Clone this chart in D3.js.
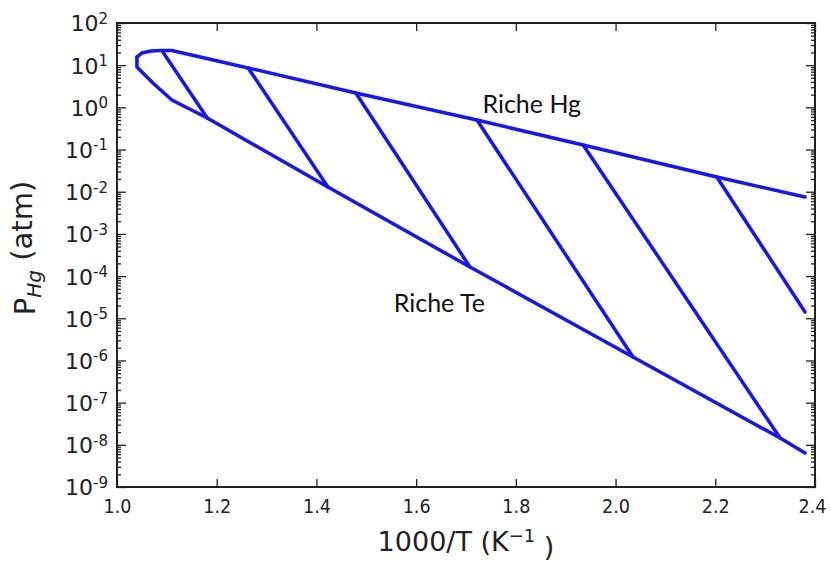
<!DOCTYPE html>
<html><head><meta charset="utf-8">
<script src="https://cdn.jsdelivr.net/npm/d3@7"></script>
<style>body{margin:0;background:#fff}svg{display:block}</style>
</head><body>
<svg id="c" width="831" height="563"></svg>
<script>
// Data
const xTickValues = [1.0, 1.2, 1.4, 1.6, 1.8, 2.0, 2.2, 2.4];
const yTickExponents = [-9, -8, -7, -6, -5, -4, -3, -2, -1, 0, 1, 2];
// Upper boundary (Hg-rich side): [1000/T, P_Hg]
const richeHg = [[1.040, 15.6], [1.050, 19.5], [1.068, 21.7], [1.090, 22.3], [1.110, 22.3],
  [1.263, 8.6], [1.479, 2.19], [1.722, 0.50], [1.935, 0.128], [2.203, 0.0223], [2.380, 0.0075]];
// Lower boundary (Te-rich side)
const richeTe = [[1.040, 15.6], [1.040, 9.06], [1.050, 6.9], [1.072, 3.78], [1.110, 1.49],
  [1.181, 0.56], [1.423, 0.0129], [1.708, 1.64e-4], [2.035, 1.21e-6], [2.330, 1.45e-8], [2.380, 6.4e-9]];
// Iso-composition tie lines
const tieLines = [
  [[1.092, 20.5], [1.181, 0.56]],
  [[1.263, 8.6], [1.423, 0.0129]],
  [[1.479, 2.19], [1.708, 1.64e-4]],
  [[1.722, 0.50], [2.035, 1.21e-6]],
  [[1.935, 0.128], [2.330, 1.45e-8]],
  [[2.203, 0.0223], [2.380, 1.41e-5]]
];
const labels = [{text: "Riche Hg", x: 1.733, y: 0.73}, {text: "Riche Te", x: 1.555, y: 1.4e-5}];

const svg = d3.select("#c");
const L = 117, R = 815, T = 23, B = 487;
const x = d3.scaleLinear().domain([1.0, 2.4]).range([L, R]);
const y = d3.scaleLog().domain([1e-9, 1e2]).range([B, T]);

const tickFont = "'DejaVu Sans', sans-serif";
const majorY = yTickExponents.map(e => Math.pow(10, e));
const minorY = [];
yTickExponents.slice(0, -1).forEach(e => { for (let k = 2; k <= 9; k++) minorY.push(k * Math.pow(10, e)); });

// Lines
const blue = "#1414ff";
const line = d3.line().x(d => x(d[0])).y(d => y(d[1]));
const g = svg.append("g");
[richeHg, richeTe].forEach(d => g.append("path").attr("d", line(d)).attr("fill", "none")
  .attr("stroke", blue).attr("stroke-width", 3.5).attr("stroke-linejoin", "round").attr("stroke-linecap", "round"));
tieLines.forEach(d => g.append("path").attr("d", line(d)).attr("fill", "none")
  .attr("stroke", blue).attr("stroke-width", 3.5).attr("stroke-linecap", "round"));

// Axes
function styleAxis(sel) {
  sel.select(".domain").remove();
  sel.selectAll(".tick line").attr("stroke", "#222").attr("stroke-width", 1.3);
}
const xb = svg.append("g").attr("transform", `translate(0,${B})`)
  .call(d3.axisBottom(x).tickValues(xTickValues).tickSize(-8).tickFormat(d3.format(".1f")));
styleAxis(xb);
xb.selectAll(".tick text").attr("font-family", tickFont).attr("font-size", 19.5).attr("fill", "#222")
  .attr("y", 26).attr("dy", 0).attr("textLength", 28).attr("lengthAdjust", "spacingAndGlyphs")
  .attr("x", (d, i, n) => i === n.length - 1 ? -3 : 0);
const xt = svg.append("g").attr("transform", `translate(0,${T})`)
  .call(d3.axisTop(x).tickValues(xTickValues).tickSize(-8).tickFormat(""));
styleAxis(xt);

const yl = svg.append("g").attr("transform", `translate(${L},0)`)
  .call(d3.axisLeft(y).tickValues(majorY).tickSize(-9).tickFormat(""));
styleAxis(yl);
yl.selectAll(".tick text").remove();
const ylm = svg.append("g").attr("transform", `translate(${L},0)`)
  .call(d3.axisLeft(y).tickValues(minorY).tickSize(-4).tickFormat(""));
styleAxis(ylm);
const yr = svg.append("g").attr("transform", `translate(${R},0)`)
  .call(d3.axisRight(y).tickValues(majorY).tickSize(-9).tickFormat(""));
styleAxis(yr);
const yrm = svg.append("g").attr("transform", `translate(${R},0)`)
  .call(d3.axisRight(y).tickValues(minorY).tickSize(-4).tickFormat(""));
styleAxis(yrm);

// y tick labels with superscripts
yl.selectAll(".tick").each(function(d) {
  const e = Math.round(Math.log10(d));
  const t = d3.select(this).append("text").attr("x", 0).attr("y", 0).attr("dy", "0.36em")
    .attr("text-anchor", "start").attr("font-family", tickFont).attr("font-size", 22).attr("fill", "#222");
  t.append("tspan").text("10");
  t.append("tspan").attr("dy", "-0.5em").attr("font-size", 15).text(e < 0 ? "-" + (-e) : String(e));
  const w = t.node().getComputedTextLength();
  t.attr("x", -9 - w);
});

// Frame
svg.append("rect").attr("x", L).attr("y", T).attr("width", R - L).attr("height", B - T)
  .attr("fill", "none").attr("stroke", "#222").attr("stroke-width", 2);

// Region labels
labels.forEach(l => svg.append("text").attr("x", x(l.x)).attr("y", y(l.y))
  .attr("font-family", "Lato, 'Open Sans', sans-serif").attr("font-size", 25).attr("fill", "#111").text(l.text));

// Axis titles
const xtitle = svg.append("text").attr("x", 466).attr("y", 551).attr("text-anchor", "middle")
  .attr("font-family", tickFont).attr("font-size", 27).attr("fill", "#222");
xtitle.append("tspan").text("1000/T (K");
xtitle.append("tspan").attr("dy", "-0.5em").attr("font-size", 18).text("\u22121");
xtitle.append("tspan").attr("dy", "0.5em").text(" )");

const ytitle = svg.append("text").attr("transform", "translate(35,248) rotate(-90)").attr("text-anchor", "middle")
  .attr("font-family", tickFont).attr("font-size", 29).attr("fill", "#222");
ytitle.append("tspan").text("P");
ytitle.append("tspan").attr("dy", "0.3em").attr("font-size", 20).attr("font-style", "italic").text("Hg");
ytitle.append("tspan").attr("dy", "-0.3em").text(" (atm)");
</script>
</body></html>
